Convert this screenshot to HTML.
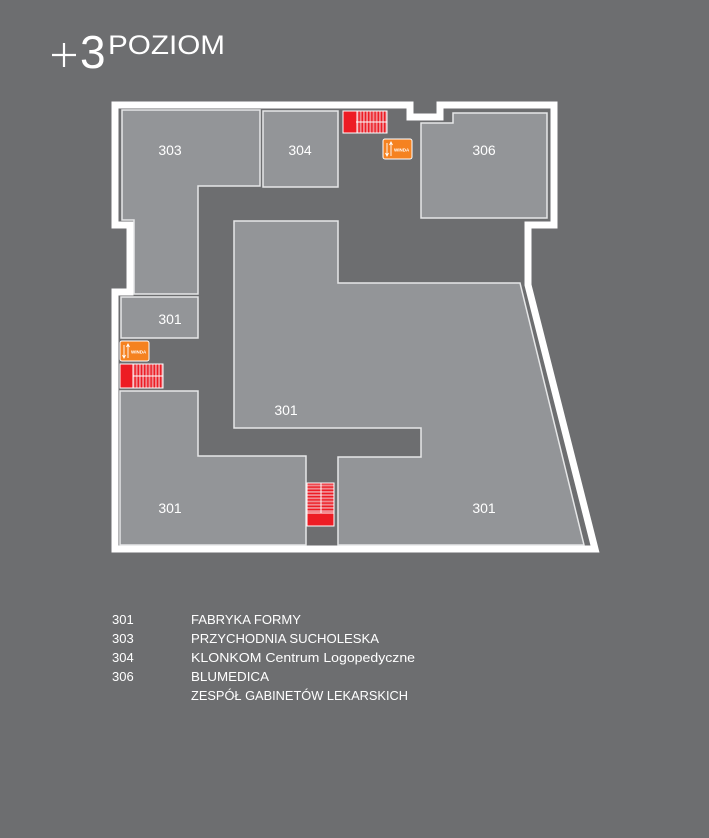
<!DOCTYPE html>
<html><head><meta charset="utf-8"><style>
html,body{margin:0;padding:0;background:#6d6e70;}
svg{display:block}
text{font-family:"Liberation Sans",sans-serif;fill:#fff}
</style></head><body>
<svg width="709" height="838" viewBox="0 0 709 838" xmlns="http://www.w3.org/2000/svg">
<defs>
<pattern id="sh" width="3.2" height="10" patternUnits="userSpaceOnUse"><rect width="3.2" height="10" fill="#f08a90"/><rect width="1.4" height="10" fill="#ed1c24"/></pattern>
<pattern id="sv" width="10" height="3.2" patternUnits="userSpaceOnUse"><rect width="10" height="3.2" fill="#f08a90"/><rect width="10" height="1.4" fill="#ed1c24"/></pattern>
</defs>
<rect width="709" height="838" fill="#6d6e70"/>
<path d="M52 55 H76 M64 43 V67" stroke="#fff" stroke-width="2.2"/>
<text x="80" y="68" font-size="46">3</text>
<text x="108" y="54" font-size="27" textLength="117" lengthAdjust="spacingAndGlyphs">POZIOM</text>

<path d="M115 105 H410 V117 H440 V105 H554 V225 H528 V285 L595 549 H115 V292 H130 V225 H115 Z" fill="#6d6e70" stroke="#fff" stroke-width="7" stroke-linejoin="miter"/>

<g fill="#939598" stroke="#e6e7e8" stroke-width="1.5">
<path d="M122 110 H260 V186 H198 V294 H134 V220 H122 Z"/>
<rect x="263" y="111" width="75" height="76"/>
<path d="M421 123 H453 V113 H547 V218 H421 Z"/>
<rect x="121" y="297" width="77" height="41"/>
<path d="M120 391 H198 V456 H306 V545 H120 Z"/>
<path d="M234 221 H338 V283 H520 L584 545 H338 V457 H421 V428 H234 Z"/>
</g>

<g stroke="#fff" stroke-width="1">
<rect x="343" y="111" width="44" height="22" fill="url(#sh)"/>
<rect x="343" y="111" width="14" height="22" fill="#ed1c24"/>
<line x1="356" y1="122" x2="387" y2="122"/>
<rect x="120" y="364" width="43" height="24" fill="url(#sh)"/>
<rect x="120" y="364" width="13" height="24" fill="#ed1c24"/>
<line x1="133" y1="376" x2="163" y2="376"/>
<rect x="307" y="483" width="27" height="43" fill="url(#sv)"/>
<rect x="307" y="513" width="27" height="13" fill="#ed1c24"/>
<line x1="321" y1="483" x2="321" y2="513"/>
</g>

<g>
<rect x="383" y="139" width="29" height="20" rx="2" fill="#f58220" stroke="#fff" stroke-width="1"/>
<path d="M387 143 V156 M385.5 153 L387 156 L388.5 153 M391 156 V142 M389.5 145 L391 142 L392.5 145" stroke="#fff" stroke-width="0.9" fill="none"/>
<text x="394" y="151.5" font-size="4.5" font-weight="bold">WINDA</text>
<rect x="120" y="341" width="29" height="20" rx="2" fill="#f58220" stroke="#fff" stroke-width="1"/>
<path d="M124 345 V358 M122.5 355 L124 358 L125.5 355 M128 358 V344 M126.5 347 L128 344 L129.5 347" stroke="#fff" stroke-width="0.9" fill="none"/>
<text x="131" y="353.5" font-size="4.5" font-weight="bold">WINDA</text>
</g>

<g font-size="14" text-anchor="middle">
<text x="170" y="155">303</text>
<text x="300" y="155">304</text>
<text x="484" y="155">306</text>
<text x="170" y="324">301</text>
<text x="286" y="415">301</text>
<text x="170" y="513">301</text>
<text x="484" y="513">301</text>
</g>

<g font-size="13">
<text x="112" y="624">301</text><text x="191" y="624" textLength="110" lengthAdjust="spacingAndGlyphs">FABRYKA FORMY</text>
<text x="112" y="643">303</text><text x="191" y="643" textLength="188" lengthAdjust="spacingAndGlyphs">PRZYCHODNIA SUCHOLESKA</text>
<text x="112" y="662">304</text><text x="191" y="662" textLength="224" lengthAdjust="spacingAndGlyphs">KLONKOM Centrum Logopedyczne</text>
<text x="112" y="681">306</text><text x="191" y="681" textLength="78" lengthAdjust="spacingAndGlyphs">BLUMEDICA</text>
<text x="191" y="700" textLength="217" lengthAdjust="spacingAndGlyphs">ZESPÓŁ GABINETÓW LEKARSKICH</text>
</g>
</svg>
</body></html>
